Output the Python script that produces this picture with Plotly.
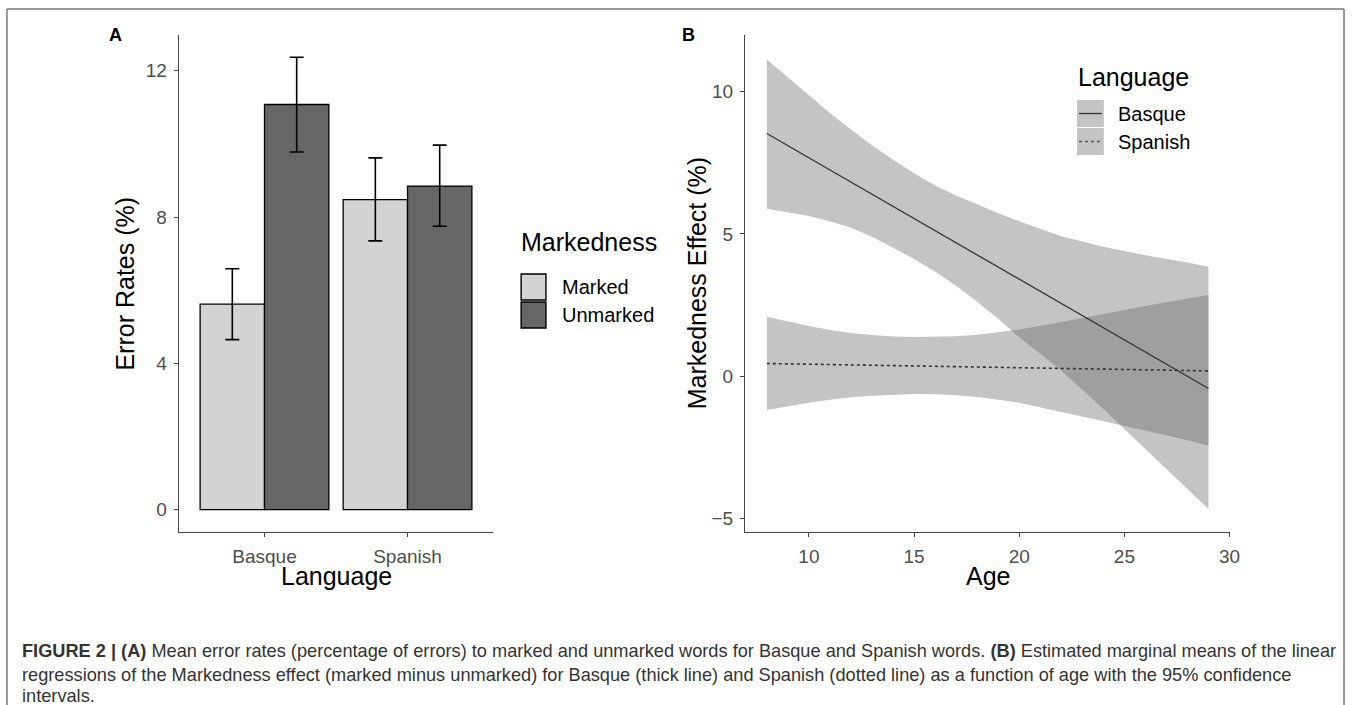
import plotly.graph_objects as go

# ---------------- data ----------------
# Panel A: mean error rates (%) with error bar limits
languages = ["Basque", "Spanish"]
lang_pos = [1, 2]
marked_mean = [5.62, 8.48]
marked_upper = [6.59, 9.62]
marked_lower = [4.65, 7.35]
unmarked_mean = [11.08, 8.85]
unmarked_upper = [12.37, 9.97]
unmarked_lower = [9.78, 7.75]

# Panel B: markedness effect (%) by age, fitted lines and 95% CI bands
age_line = [8, 29]
basque_fit = [8.53, -0.43]
spanish_fit = [0.45, 0.19]

age_band = [8, 9, 10, 11, 12, 13, 14, 15, 16, 17, 18, 19, 20, 22, 24, 26, 28, 29]
basque_upper = [11.13, 10.50, 9.90, 9.25, 8.67, 8.12, 7.61, 7.13, 6.70, 6.35, 6.04, 5.73, 5.45, 4.92, 4.55, 4.25, 4.00, 3.85]
basque_lower = [5.89, 5.77, 5.63, 5.45, 5.22, 4.90, 4.52, 4.12, 3.68, 3.18, 2.62, 2.02, 1.37, 0.20, -1.15, -2.55, -3.95, -4.66]
spanish_upper = [2.09, 1.92, 1.77, 1.63, 1.52, 1.45, 1.40, 1.38, 1.39, 1.41, 1.46, 1.54, 1.64, 1.91, 2.20, 2.47, 2.73, 2.86]
spanish_lower = [-1.18, -1.05, -0.93, -0.82, -0.74, -0.68, -0.64, -0.62, -0.63, -0.67, -0.73, -0.82, -0.93, -1.25, -1.57, -1.90, -2.25, -2.44]

ticks_a = [0, 4, 8, 12]
ticks_b_y = [-5, 0, 5, 10]
ticks_b_x = [10, 15, 20, 25, 30]

# ---------------- layout helpers ----------------
W, H = 1358, 705
FONT = "Liberation Sans, Arial, Helvetica, sans-serif"


def px(x):
    return x / W


def py(y):
    return 1 - y / H


LIGHT = "#d3d3d3"
DARK = "#666666"
BAND = "rgba(100,100,100,0.38)"
AXC = "#444444"
TICKC = "#4d4d4d"

fig = go.Figure()

# Panel A bars
fig.add_trace(go.Bar(
    x=lang_pos, y=marked_mean, width=0.45, offset=-0.45,
    marker=dict(color=LIGHT, line=dict(color="black", width=1.3)),
    error_y=dict(type="data", symmetric=False,
                 array=[u - m for u, m in zip(marked_upper, marked_mean)],
                 arrayminus=[m - l for m, l in zip(marked_mean, marked_lower)],
                 color="black", thickness=1.6, width=7),
    xaxis="x", yaxis="y", showlegend=False, name="Marked"))
fig.add_trace(go.Bar(
    x=lang_pos, y=unmarked_mean, width=0.45, offset=0,
    marker=dict(color=DARK, line=dict(color="black", width=1.3)),
    error_y=dict(type="data", symmetric=False,
                 array=[u - m for u, m in zip(unmarked_upper, unmarked_mean)],
                 arrayminus=[m - l for m, l in zip(unmarked_mean, unmarked_lower)],
                 color="black", thickness=1.6, width=7),
    xaxis="x", yaxis="y", showlegend=False, name="Unmarked"))

# Panel B bands
fig.add_trace(go.Scatter(
    x=age_band + age_band[::-1], y=basque_upper + basque_lower[::-1],
    fill="toself", fillcolor=BAND, line=dict(width=0), mode="lines",
    xaxis="x2", yaxis="y2", showlegend=False, hoverinfo="skip"))
fig.add_trace(go.Scatter(
    x=age_band + age_band[::-1], y=spanish_upper + spanish_lower[::-1],
    fill="toself", fillcolor=BAND, line=dict(width=0), mode="lines",
    xaxis="x2", yaxis="y2", showlegend=False, hoverinfo="skip"))
# Panel B lines
fig.add_trace(go.Scatter(
    x=age_line, y=basque_fit, mode="lines",
    line=dict(color="#333333", width=1.3),
    xaxis="x2", yaxis="y2", showlegend=False, name="Basque"))
fig.add_trace(go.Scatter(
    x=age_line, y=spanish_fit, mode="lines",
    line=dict(color="#333333", width=1.6, dash="dot"),
    xaxis="x2", yaxis="y2", showlegend=False, name="Spanish"))

axis_common = dict(showline=True, linecolor=AXC, linewidth=1.1, ticks="outside",
                   ticklen=4, tickwidth=1.1, tickcolor=AXC, showgrid=False,
                   zeroline=False, tickfont=dict(family=FONT, size=19, color=TICKC),
                   ticklabelstandoff=3)

y_top, y_bot = 35, 532
fig.update_layout(
    width=W, height=H, margin=dict(l=0, r=0, t=0, b=0),
    paper_bgcolor="white", plot_bgcolor="white",
    font=dict(family=FONT),
    xaxis=dict(domain=[px(180), px(497)], range=[0.4, 2.6], tickvals=lang_pos,
               ticktext=languages, anchor="y", **axis_common),
    yaxis=dict(domain=[py(y_bot), py(y_top)], range=[-0.61, 12.98], tickvals=ticks_a,
               anchor="x", **axis_common),
    xaxis2=dict(domain=[px(750.5), px(1239.5)], range=[6.96, 30.04], tickvals=ticks_b_x,
                anchor="y2", **axis_common),
    yaxis2=dict(domain=[py(y_bot), py(y_top)], range=[-5.47, 11.99], tickvals=ticks_b_y,
                anchor="x2", **axis_common),
)

ann = []


def text(x, y, s, size, color="black", xanchor="center", angle=0):
    ann.append(dict(x=px(x), y=py(y), xref="paper", yref="paper", text=s,
                    showarrow=False, xanchor=xanchor, yanchor="middle",
                    textangle=angle, font=dict(family=FONT, size=size, color=color)))


# axis titles
text(338.5, 576, "Language", 25)
text(125, 283.5, "Error Rates (%)", 25, angle=-90)
text(995, 576, "Age", 25)
text(702, 283.5, "Markedness Effect (%)", 25, angle=-90)
# panel letters
text(116, 35, "<b>A</b>", 18)
text(694, 35, "<b>B</b>", 18)

# legend A
text(523, 242, "Markedness", 25, xanchor="left")
text(564, 287, "Marked", 20, xanchor="left")
text(564, 315, "Unmarked", 20, xanchor="left")
# legend B
text(1084, 77, "Language", 25, xanchor="left")
text(1124, 114, "Basque", 20, xanchor="left")
text(1124, 142, "Spanish", 20, xanchor="left")

# caption
CAPC = "#333333"
CAPS = 18.2
text(20, 651, "<b>FIGURE 2 | (A)</b> Mean error rates (percentage of errors) to marked and unmarked words for Basque and Spanish words. <b>(B)</b> Estimated marginal means of the linear", CAPS, CAPC, xanchor="left")
text(20, 675, "regressions of the Markedness effect (marked minus unmarked) for Basque (thick line) and Spanish (dotted line) as a function of age with the 95% confidence", CAPS, CAPC, xanchor="left")
text(20, 696, "intervals.", CAPS, CAPC, xanchor="left")

fig.update_layout(annotations=ann)

shapes = []


def rect(x0, y0, x1, y1, fill, line_color=None, lw=0):
    shapes.append(dict(type="rect", xref="paper", yref="paper",
                       x0=px(x0), x1=px(x1), y0=py(y1), y1=py(y0),
                       fillcolor=fill, line=dict(color=line_color or fill, width=lw)))


# legend A keys
rect(525, 274, 550, 300, LIGHT, "black", 1.4)
rect(525, 302, 550, 328, DARK, "black", 1.4)
# legend B keys
rect(1085, 100, 1112, 127, "#c4c4c4")
rect(1085, 128, 1112, 155, "#c4c4c4")
shapes.append(dict(type="line", xref="paper", yref="paper", x0=px(1087), x1=px(1110),
                   y0=py(113.5), y1=py(113.5), line=dict(color="#333333", width=1.3)))
shapes.append(dict(type="line", xref="paper", yref="paper", x0=px(1087), x1=px(1110),
                   y0=py(141.5), y1=py(141.5), line=dict(color="#555555", width=1.5, dash="dot")))
# figure frame
shapes.append(dict(type="line", xref="paper", yref="paper", x0=px(7), x1=px(1354),
                   y0=py(9), y1=py(9), line=dict(color="#777777", width=1.5)))
shapes.append(dict(type="line", xref="paper", yref="paper", x0=px(7), x1=px(7),
                   y0=py(9), y1=py(705), line=dict(color="#777777", width=1.5)))
shapes.append(dict(type="line", xref="paper", yref="paper", x0=px(1354), x1=px(1354),
                   y0=py(9), y1=py(705), line=dict(color="#777777", width=1.5)))
fig.update_layout(shapes=shapes)

fig.write_html("out.html", config={"displayModeBar": False},
               post_script="document.body.style.margin='0';document.body.style.overflow='hidden';")
